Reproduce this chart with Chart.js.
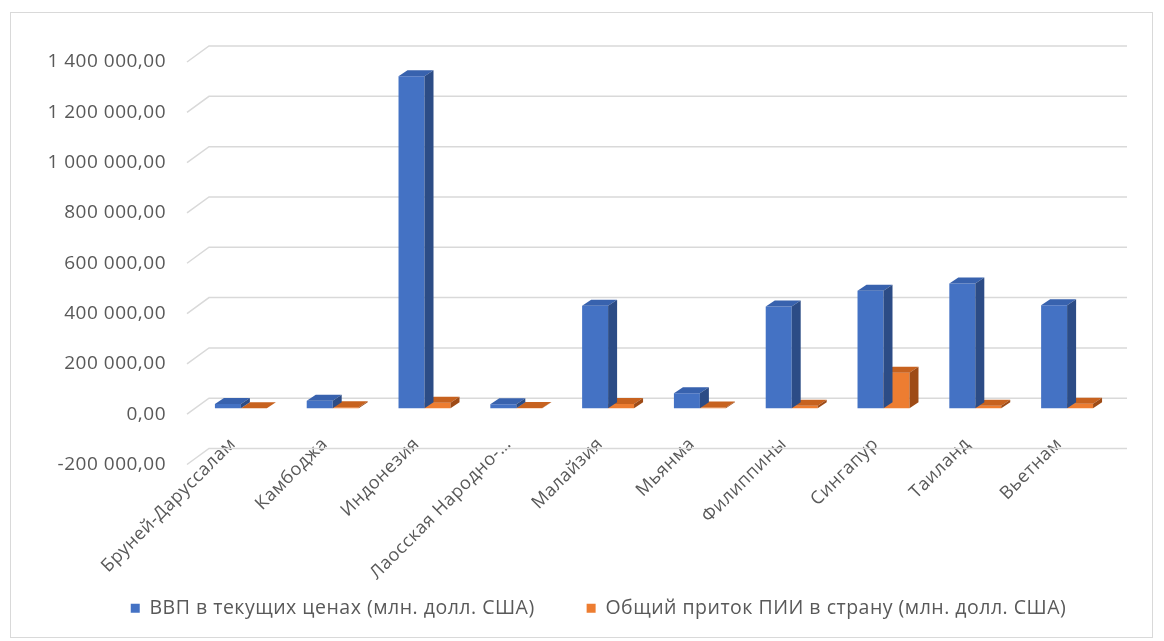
<!DOCTYPE html>
<html><head><meta charset="utf-8">
<script src="https://cdn.jsdelivr.net/npm/chart.js@4.4.0/dist/chart.umd.min.js"></script>
<style>
html,body{margin:0;padding:0;background:#fff;}
#wrap{position:relative;width:1164px;height:641px;overflow:hidden;}
#frame{position:absolute;left:10px;top:12px;width:1143px;height:626px;border:1.5px solid #d9d9d9;box-sizing:border-box;pointer-events:none;}
canvas{position:absolute;left:0;top:0;}
</style></head><body>
<div id="wrap"><canvas id="c" width="1164" height="641"></canvas><div id="frame"></div></div>
<script>
const categories = ['Бруней-Даруссалам','Камбоджа','Индонезия','Лаосская Народно-…','Малайзия','Мьянма','Филиппины','Сингапур','Таиланд','Вьетнам'];
const gdp = [16682, 29957, 1319100, 15724, 407027, 59364, 404284, 466789, 495341, 408802];
const fdi = [-292, 3579, 21968, 633, 16940, 3000, 9201, 141211, 10035, 17900];
const seriesNames = ['ВВП в текущих ценах (млн. долл. США)', 'Общий приток ПИИ в страну (млн. долл. США)'];
const yMin = -200000, yMax = 1400000, yStep = 200000;

const FONT = 'Open Sans';
const TXT = '#595959';
const BACK = {dx: 22, dy: 16};   // depth of back wall
const BAR_OFF = {dx: 8, dy: 6};  // bar front plane offset
const BAR_DEPTH = {dx: 9, dy: 6};
const shades = [
  {front:'#4472C4', top:'#3862AE', side:'#2C4C86'},
  {front:'#ED7D31', top:'#C7621F', side:'#9E4B16'}
];

function fmt(v){
  const neg = v < 0;
  const s = Math.abs(v).toFixed(0).replace(/\B(?=(\d{3})+(?!\d))/g, ' ');
  return (neg ? '-' : '') + s + ',00';
}

const threeD = {
  id: 'threeD',
  afterInit(chart){ chart.ctx.letterSpacing = '0.5px'; },
  beforeUpdate(chart){ chart.ctx.letterSpacing = '0.5px'; },
  afterLayout(chart){
    const lg = chart.legend;
    if (lg) { const shift = 46; lg.left += shift; lg.right += shift; }
    if (chart.scales.x) chart.scales.x._computeLabelArea = () => undefined;
  },
  beforeDatasetsDraw(chart){
    const {ctx, chartArea, scales} = chart;
    const y = scales.y;
    ctx.save();
    ctx.strokeStyle = '#d9d9d9';
    ctx.lineWidth = 1.5;
    y.ticks.forEach(t => {
      const py = y.getPixelForValue(t.value);
      ctx.beginPath();
      ctx.moveTo(chartArea.left, py);
      ctx.lineTo(chartArea.left + BACK.dx, py - BACK.dy);
      ctx.lineTo(chartArea.right + BACK.dx, py - BACK.dy);
      ctx.stroke();
    });
    ctx.restore();
    ctx.save();
    ctx.translate(BAR_OFF.dx, -BAR_OFF.dy);
  },
  afterDatasetDraw(chart, args){
    const {ctx} = chart;
    const sh = shades[args.index];
    const meta = args.meta;
    meta.data.forEach(el => {
      const p = el.getProps(['x','y','base','width'], true);
      const l = p.x - p.width/2, r = p.x + p.width/2;
      const top = Math.min(p.y, p.base), bot = Math.max(p.y, p.base);
      const dx = BAR_DEPTH.dx, dy = BAR_DEPTH.dy;
      ctx.fillStyle = sh.top;
      ctx.beginPath();
      ctx.moveTo(l, top); ctx.lineTo(l+dx, top-dy); ctx.lineTo(r+dx, top-dy); ctx.lineTo(r, top);
      ctx.closePath(); ctx.fill();
      ctx.fillStyle = sh.side;
      ctx.beginPath();
      ctx.moveTo(r, top); ctx.lineTo(r+dx, top-dy); ctx.lineTo(r+dx, bot-dy); ctx.lineTo(r, bot);
      ctx.closePath(); ctx.fill();
    });
  },
  afterDatasetsDraw(chart){
    chart.ctx.restore();
  }
};

new Chart(document.getElementById('c'), {
  type: 'bar',
  data: {
    labels: categories,
    datasets: [
      {label: seriesNames[0], data: gdp, backgroundColor: shades[0].front, categoryPercentage: 0.566, barPercentage: 1},
      {label: seriesNames[1], data: fdi, backgroundColor: shades[1].front, categoryPercentage: 0.566, barPercentage: 1}
    ]
  },
  options: {
    responsive: false,
    animation: false,
    devicePixelRatio: 1,
    layout: {padding: {left: 0, right: 59, top: 62, bottom: 13}},
    plugins: {
      tooltip: {enabled: false},
      legend: {
        position: 'bottom',
        labels: {boxWidth: 9, boxHeight: 9, padding: 52, color: TXT, font: {family: FONT, size: 19.5}}
      }
    },
    scales: {
      x: {
        grid: {display: false, drawTicks: false},
        border: {display: false},
        ticks: {minRotation: 45, maxRotation: 45, autoSkip: false, padding: -31, color: TXT, font: {family: FONT, size: 18}},
        afterFit(s){ s.height = 82; }
      },
      y: {
        min: yMin, max: yMax,
        grid: {display: false, drawTicks: false},
        border: {display: false},
        ticks: {stepSize: yStep, padding: 21, color: TXT, font: {family: FONT, size: 19}, callback: v => fmt(v)},
        afterFit(s){ s.width = 187; }
      }
    }
  },
  plugins: [threeD]
});
</script>
</body></html>
